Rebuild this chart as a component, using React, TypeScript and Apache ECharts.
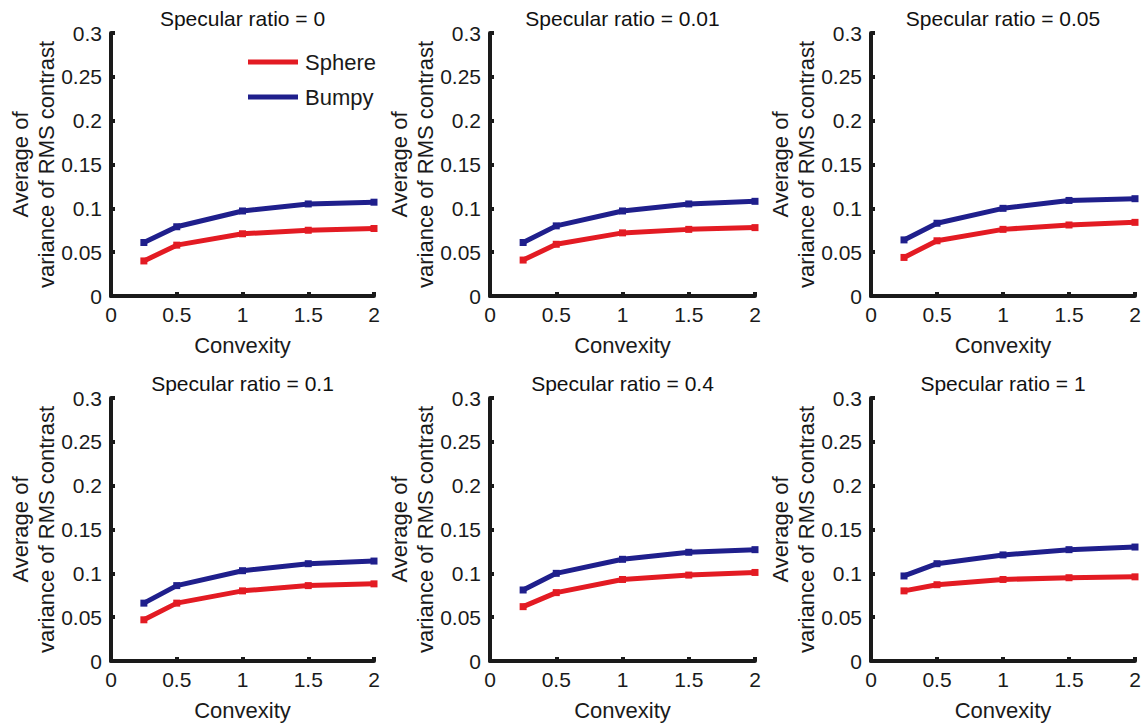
import React, { useEffect, useRef } from "react";
import * as echarts from "echarts";

const convexity = [0.25, 0.5, 1, 1.5, 2];
const specularRatios = ["0", "0.01", "0.05", "0.1", "0.4", "1"];

const sphere0 = [0.040, 0.058, 0.071, 0.075, 0.077];
const bumpy0 = [0.061, 0.079, 0.097, 0.105, 0.107];
const sphere001 = [0.041, 0.059, 0.072, 0.076, 0.078];
const bumpy001 = [0.061, 0.080, 0.097, 0.105, 0.108];
const sphere005 = [0.044, 0.063, 0.076, 0.081, 0.084];
const bumpy005 = [0.064, 0.083, 0.100, 0.109, 0.111];
const sphere01 = [0.047, 0.066, 0.080, 0.086, 0.088];
const bumpy01 = [0.066, 0.086, 0.103, 0.111, 0.114];
const sphere04 = [0.062, 0.078, 0.093, 0.098, 0.101];
const bumpy04 = [0.081, 0.100, 0.116, 0.124, 0.127];
const sphere1 = [0.080, 0.087, 0.093, 0.095, 0.096];
const bumpy1 = [0.097, 0.111, 0.121, 0.127, 0.130];

const sphereSets = [sphere0, sphere001, sphere005, sphere01, sphere04, sphere1];
const bumpySets = [bumpy0, bumpy001, bumpy005, bumpy01, bumpy04, bumpy1];

const xTickLabels = ["0", "0.5", "1", "1.5", "2"];
const yTickLabels = ["0", "0.05", "0.1", "0.15", "0.2", "0.25", "0.3"];

const RED = "#e31b23";
const BLUE = "#1f1f8c";
const AXIS = "#1a1a1a";
const TEXT = "#1a1a1a";
const FONT = "'Liberation Sans', Arial, sans-serif";

const lefts = [111, 490, 871];
const widths = [263, 265, 264];
const tops = [33, 398];
const H = 263;

export default function App() {
  const ref = useRef<HTMLDivElement>(null);
  useEffect(() => {
    if (!ref.current) return;
    const chart = echarts.init(ref.current, undefined, { renderer: "svg" });
    const grids: any[] = [];
    const xAxes: any[] = [];
    const yAxes: any[] = [];
    const series: any[] = [];
    const graphics: any[] = [];
    for (let i = 0; i < 6; i++) {
      const col = i % 3;
      const row = Math.floor(i / 3);
      const left = lefts[col];
      const width = widths[col];
      const top = tops[row];
      grids.push({ left, top, width, height: H, containLabel: false });
      xAxes.push({
        type: "value",
        gridIndex: i,
        min: 0,
        max: 2,
        interval: 0.5,
        name: "Convexity",
        nameLocation: "middle",
        nameGap: 38,
        nameTextStyle: { fontFamily: FONT, fontSize: 22, color: TEXT },
        axisLine: { show: true, onZero: false, lineStyle: { color: AXIS, width: 4 } },
        axisTick: { show: true, inside: true, length: 4, lineStyle: { color: AXIS, width: 4 } },
        axisLabel: {
          fontFamily: FONT,
          fontSize: 21,
          color: TEXT,
          margin: 8,
          formatter: (v: number) => xTickLabels[Math.round(v / 0.5)] ?? String(v),
        },
        splitLine: { show: false },
      });
      yAxes.push({
        type: "value",
        gridIndex: i,
        min: 0,
        max: 0.3,
        interval: 0.05,
        axisLine: { show: true, onZero: false, lineStyle: { color: AXIS, width: 4 } },
        axisTick: { show: true, inside: true, length: 4, lineStyle: { color: AXIS, width: 4 } },
        axisLabel: {
          fontFamily: FONT,
          fontSize: 21,
          color: TEXT,
          margin: 9,
          formatter: (v: number) => yTickLabels[Math.round(v / 0.05)] ?? String(v),
        },
        splitLine: { show: false },
      });
      series.push({
        name: "Sphere",
        type: "line",
        xAxisIndex: i,
        yAxisIndex: i,
        data: convexity.map((c, k) => [c, sphereSets[i][k]]),
        symbol: "rect",
        symbolSize: 7,
        showSymbol: true,
        itemStyle: { color: RED },
        lineStyle: { color: RED, width: 5 },
        z: 3,
      });
      series.push({
        name: "Bumpy",
        type: "line",
        xAxisIndex: i,
        yAxisIndex: i,
        data: convexity.map((c, k) => [c, bumpySets[i][k]]),
        symbol: "rect",
        symbolSize: 7,
        showSymbol: true,
        itemStyle: { color: BLUE },
        lineStyle: { color: BLUE, width: 5 },
        z: 3,
      });
      const cx = left + width / 2;
      graphics.push({
        type: "text",
        x: cx,
        y: top - 15,
        style: {
          text: "Specular ratio = " + specularRatios[i],
          fontFamily: FONT,
          fontSize: 21,
          fill: "#111111",
          textAlign: "center",
          textVerticalAlign: "middle",
        },
      });
      graphics.push({
        type: "text",
        x: left - 78,
        y: top + H / 2,
        rotation: Math.PI / 2,
        style: {
          text: "Average of\nvariance of RMS contrast",
          fontFamily: FONT,
          fontSize: 22,
          lineHeight: 26,
          fill: TEXT,
          textAlign: "center",
          textVerticalAlign: "middle",
        },
      });
    }
    chart.setOption({
      animation: false,
      backgroundColor: "#ffffff",
      grid: grids,
      xAxis: xAxes,
      yAxis: yAxes,
      series,
      graphic: graphics,
      legend: {
        data: ["Sphere", "Bumpy"],
        orient: "vertical",
        left: 243,
        top: 44,
        icon: "rect",
        itemWidth: 50,
        itemHeight: 5,
        itemGap: 9,
        selectedMode: false,
        textStyle: { fontFamily: FONT, fontSize: 22, color: TEXT, lineHeight: 26, padding: [0, 0, 0, 2] },
      },
    });
    return () => chart.dispose();
  }, []);
  return (
    <div
      ref={ref}
      style={{ position: "fixed", left: 0, top: 0, width: 1147, height: 724, background: "#fff" }}
    />
  );
}
